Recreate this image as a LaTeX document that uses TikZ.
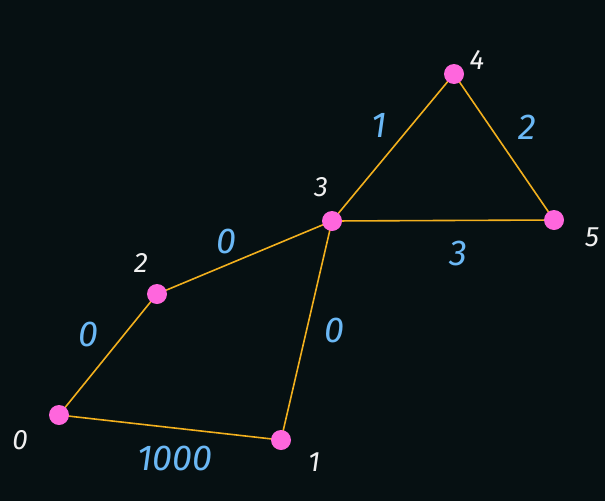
\documentclass[tikz,border=0pt]{standalone}
\usepackage{fontspec}
\setmainfont{Fira Sans}
\definecolor{bg}{HTML}{061012}
\definecolor{edgec}{HTML}{F2B01E}
\definecolor{nodec}{HTML}{FF66DD}
\definecolor{wlab}{HTML}{F0F0F0}
\definecolor{blab}{HTML}{6BB8F5}
\tikzset{
  vert/.style={circle,fill=nodec,inner sep=0pt,minimum size=20pt},
  edg/.style={draw=edgec,line width=1.6pt},
  vlab/.style={text=wlab,font=\fontsize{28}{28}\selectfont\itshape},
  elab/.style={text=blab,font=\fontsize{36}{36}\selectfont\itshape}
}
\begin{document}
\begin{tikzpicture}[x=1pt,y=-1pt]
\fill[bg] (0,0) rectangle (605,501);
\useasboundingbox (0,0) rectangle (605,501);
\coordinate (c0) at (59,415);
\coordinate (c1) at (281,440);
\coordinate (c2) at (157,294);
\coordinate (c3) at (332,221);
\coordinate (c4) at (454,74);
\coordinate (c5) at (554,220);
\draw[edg] (c0) -- (c2);
\draw[edg] (c2) -- (c3);
\draw[edg] (c0) -- (c1);
\draw[edg] (c3) -- (c1);
\draw[edg] (c3) -- (c4);
\draw[edg] (c4) -- (c5);
\draw[edg] (c3) -- (c5);
\node[vert] (v0) at (c0) {};
\node[vert] (v1) at (c1) {};
\node[vert] (v2) at (c2) {};
\node[vert] (v3) at (c3) {};
\node[vert] (v4) at (c4) {};
\node[vert] (v5) at (c5) {};
\node[vlab] (l0) at (20,440) {0};
\node[vlab] (l1) at (314,462) {1};
\node[vlab] (l2) at (141,263) {2};
\node[vlab] (l3) at (321,187) {3};
\node[vlab] (l4) at (477,60) {4};
\node[vlab] (l5) at (592,237) {5};
\node[elab] (e02) at (88,334) {0};
\node[elab] (e23) at (226,241) {0};
\node[elab] (e01) at (175,458) {1000};
\node[elab] (e31) at (334,330) {0};
\node[elab] (e34) at (379,125) {1};
\node[elab] (e45) at (527,127) {2};
\node[elab] (e35) at (458,253) {3};
\end{tikzpicture}
\end{document}
